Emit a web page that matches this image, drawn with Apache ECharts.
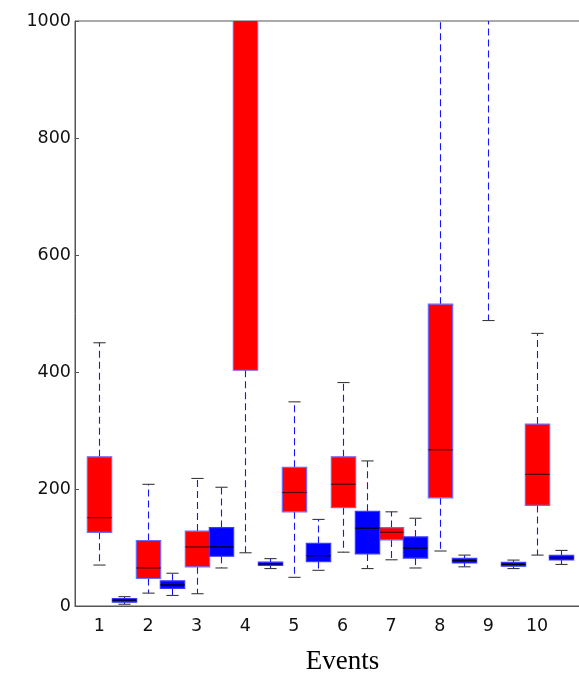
<!DOCTYPE html>
<html>
<head>
<meta charset="utf-8">
<script src="https://cdn.jsdelivr.net/npm/echarts@6/dist/echarts.min.js"></script>
<style>
  html, body { margin: 0; padding: 0; background: #fff; }
  #chart { width: 579px; height: 674px; }
</style>
</head>
<body>
<div id="chart"></div>
<script>
// Event labels along the x axis (one extra empty slot on the right)
const events = ['1', '2', '3', '4', '5', '6', '7', '8', '9', '10'];
const xSlots = events.concat(['']);

// Y axis ticks
const yTicks = [0, 200, 400, 600, 800, 1000];

// Box statistics per event: [lower whisker, Q1, median, Q3, upper whisker]
const redStats = [
  [70, 126, 151, 255, 450],
  [22, 47, 65, 112, 208],
  [21, 67, 101, 128, 218],
  [91, 403, 1250, 1800, 3000],
  [49, 161, 194, 237, 349],
  [92, 168, 208, 255, 382],
  [79, 113, 126, 134, 161],
  [94, 185, 267, 516, 1100],
  [488, 1100, 1300, 1500, 2200],
  [87, 172, 225, 311, 466]
];
const blueStats = [
  [3, 6.5, 10, 12.5, 16],
  [18, 30, 36, 43, 56],
  [65, 85, 101, 134, 203],
  [64, 69.5, 72, 75, 81],
  [61, 76, 86, 107, 148],
  [64, 89, 133, 162, 248],
  [65, 82, 99, 118, 150],
  [67, 73.5, 77.5, 81.5, 87],
  [64, 68, 71, 74.5, 78.5],
  [71, 78.6, 82.6, 86.6, 95]
];

function toRows(stats) {
  return stats.map((s, i) => [i].concat(s));
}

// Draws one box-and-whisker glyph; offset is in category units
function boxRenderer(offset, fill, edge, medianColor) {
  return function (params, api) {
    const i = api.value(0);
    const v = [1, 2, 3, 4, 5].map(d => api.value(d));
    const unit = api.size([1, 0])[0];
    const cx = Math.round(api.coord([i, 0])[0] + offset * unit) + 0.5;
    const y = v.map(val => api.coord([i, val])[1]);
    const hb = unit * 0.25;
    const hc = unit * 0.125;
    const whisker = { stroke: '#1414ff', lineWidth: 1.1, lineDash: [7, 4] };
    const cap = { stroke: '#3a3a3a', lineWidth: 1.1 };
    return {
      type: 'group',
      children: [
        { type: 'line', shape: { x1: cx, y1: y[3], x2: cx, y2: y[4] }, style: whisker },
        { type: 'line', shape: { x1: cx, y1: y[1], x2: cx, y2: y[0] }, style: whisker },
        { type: 'rect', shape: { x: cx - hb, y: y[3], width: 2 * hb, height: y[1] - y[3] },
          style: { fill: fill, stroke: edge, lineWidth: 1.2 } },
        { type: 'line', shape: { x1: cx - hb, y1: y[2], x2: cx + hb, y2: y[2] },
          style: { stroke: medianColor, lineWidth: 1.2 } },
        { type: 'line', shape: { x1: cx - hc, y1: y[4], x2: cx + hc, y2: y[4] }, style: cap },
        { type: 'line', shape: { x1: cx - hc, y1: y[0], x2: cx + hc, y2: y[0] }, style: cap }
      ]
    };
  };
}

const chart = echarts.init(document.getElementById('chart'), null, { renderer: 'canvas' });
const axisGray = '#555';
const tickFont = { color: '#111', fontSize: 17.5, fontFamily: 'DejaVu Sans' };

chart.setOption({
  animation: false,
  backgroundColor: '#fff',
  grid: {
    left: 75, top: 21, width: 535, height: 585,
    outerBoundsMode: 'none', containLabel: false,
    show: true, borderColor: axisGray, borderWidth: 1, backgroundColor: 'transparent'
  },
  xAxis: [
    {
      type: 'category', data: xSlots, position: 'bottom',
      boundaryGap: true,
      name: 'Events', nameLocation: 'middle', nameGap: 42,
      nameTextStyle: { fontFamily: 'Liberation Serif', fontSize: 27, color: '#000' },
      axisLine: { lineStyle: { color: axisGray, width: 1 } },
      axisTick: { alignWithLabel: true, inside: true, length: 4, lineStyle: { color: axisGray } },
      axisLabel: Object.assign({ margin: 11, interval: 0 }, tickFont),
      splitLine: { show: false }
    },
    {
      type: 'category', data: xSlots, position: 'top',
      boundaryGap: true,
      axisLine: { show: false },
      axisTick: { alignWithLabel: true, inside: true, length: 4, lineStyle: { color: axisGray } },
      axisLabel: { show: false },
      splitLine: { show: false }
    }
  ],
  yAxis: {
    type: 'value', min: yTicks[0], max: yTicks[yTicks.length - 1], interval: 200,
    axisLine: { show: true, lineStyle: { color: axisGray, width: 1 } },
    axisTick: { show: true, inside: true, length: 4, lineStyle: { color: axisGray } },
    axisLabel: Object.assign({ margin: 4, formatter: v => String(v) }, tickFont),
    splitLine: { show: false }
  },
  series: [
    {
      type: 'custom', name: 'red', xAxisIndex: 0, clip: true,
      encode: { x: 0, y: [1, 2, 3, 4, 5] },
      data: toRows(redStats),
      renderItem: boxRenderer(0, '#ff0000', '#6b6bff', '#5a0000')
    },
    {
      type: 'custom', name: 'blue', xAxisIndex: 0, clip: true,
      encode: { x: 0, y: [1, 2, 3, 4, 5] },
      data: toRows(blueStats),
      renderItem: boxRenderer(0.5, '#0000ff', '#3a3aff', '#000000')
    }
  ]
});
</script>
</body>
</html>
